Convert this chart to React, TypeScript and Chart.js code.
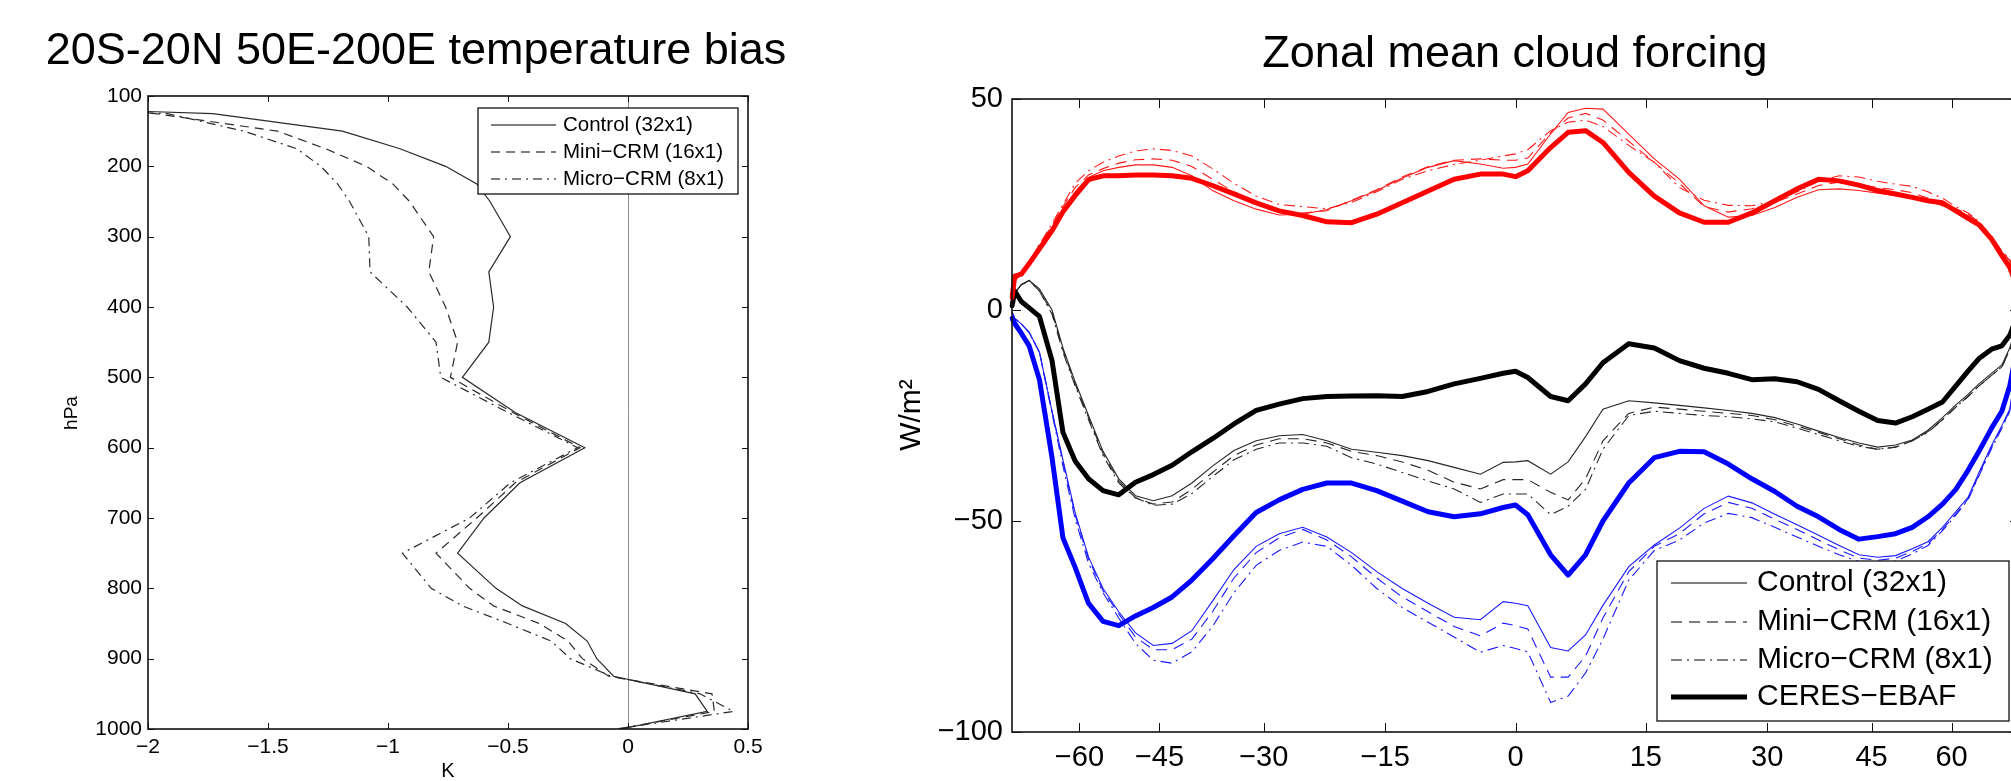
import React, { useEffect, useRef } from 'react';
import { Chart, registerables, LinearScale } from 'chart.js';

Chart.register(...registerables);

const DEG = Math.PI / 180;
const FONT = '"Liberation Sans", Arial, Helvetica, sans-serif';

// ---------------- Left panel data ----------------
const PRESSURE_LEVELS = [100, 125, 150, 175, 200, 225, 250, 300, 350, 400, 450, 500, 550, 600, 650, 700, 750, 800, 825, 850, 875, 900, 925, 950, 975, 1000];
const CONTROL_BIAS = [-4.0, -1.73, -1.19, -0.95, -0.76, -0.63, -0.575, -0.49, -0.58, -0.56, -0.58, -0.69, -0.47, -0.18, -0.45, -0.6, -0.71, -0.55, -0.44, -0.26, -0.17, -0.13, -0.06, 0.28, 0.33, -0.03];
const MINI_BIAS = [-4.3, -1.97, -1.46, -1.26, -1.09, -0.98, -0.91, -0.81, -0.83, -0.76, -0.71, -0.74, -0.48, -0.2, -0.47, -0.63, -0.8, -0.66, -0.56, -0.37, -0.25, -0.19, -0.08, 0.35, 0.36, -0.04];
const MICRO_BIAS = [-4.2, -1.92, -1.6, -1.38, -1.28, -1.21, -1.16, -1.08, -1.075, -0.92, -0.8, -0.78, -0.5, -0.21, -0.49, -0.66, -0.94, -0.82, -0.69, -0.5, -0.32, -0.24, -0.07, 0.3, 0.44, -0.05];
const BIAS_TICKS = [-2, -1.5, -1, -0.5, 0, 0.5];
const PRESSURE_TICKS = [100, 200, 300, 400, 500, 600, 700, 800, 900, 1000];
const BIAS_LABELS = ['Control (32x1)', 'Mini\u2212CRM (16x1)', 'Micro\u2212CRM (8x1)'];

// ---------------- Right panel data ----------------
const LATITUDES = [-89, -84, -79, -75, -71, -67, -64, -61, -58, -55,
  -52, -49, -46, -43, -40, -37, -34, -31, -28, -25,
  -22, -19, -16, -13, -10, -7, -4, -1.4, 0, 1.4,
  4, 6, 8, 10, 13, 16, 19, 22, 25, 28,
  31, 34, 37, 40, 43, 46, 49, 52, 55, 58,
  61, 64, 67, 71, 75, 79, 84, 89];
const LAT_TICKS = [-60, -45, -30, -15, 0, 15, 30, 45, 60];
const CF_TICKS = [-100, -50, 0, 50];

const CERES_LW = [3, 8, 8.5, 11, 14.5, 18.8, 23.3, 27.1, 30.9, 31.8,
  31.8, 32.0, 32.0, 31.8, 31.2, 29.5, 27.5, 25.4, 23.5, 22.4,
  20.9, 20.7, 22.7, 25.4, 28.2, 31.0, 32.2, 32.2, 31.6, 33.0,
  38.5, 42.1, 42.5, 39.7, 32.6, 27.0, 23.0, 20.8, 20.8, 23.0,
  25.9, 28.7, 31.0, 30.6, 29.6, 28.3, 27.5, 26.7, 25.9, 25.4,
  23.5, 21.7, 20.2, 16.8, 12.9, 10.1, 6, 3];
const CONTROL_LW = [2, 7, 8.5, 11.5, 15, 19.5, 24, 28, 31.4, 33.0,
  33.8, 34.4, 34.4, 33.8, 31.8, 28.3, 25.9, 23.9, 22.5, 22.7,
  23.8, 25.9, 28.3, 31.3, 33.8, 35.4, 34.6, 33.6, 33.8, 34.6,
  41.7, 46.8, 47.8, 47.6, 41.7, 35.8, 31.0, 24.7, 22.0, 22.4,
  24.3, 26.7, 28.5, 28.7, 28.3, 27.7, 27.1, 26.7, 25.9, 24.7,
  23.5, 22.4, 20.4, 16.8, 13.7, 11.7, 7, 3];
const MINI_LW = [2, 7, 8.5, 11.5, 15.5, 20, 24.5, 29, 32, 33.5,
  34.8, 35.6, 35.8, 35.5, 34, 31, 28, 25.5, 23.5, 23,
  23.5, 26, 28.5, 31.5, 34, 35.5, 35.8, 35.5, 35.5, 36,
  42, 45.5, 46.6, 45, 40, 35, 30, 24.5, 23.2, 24,
  25.5, 27.5, 29.5, 30.3, 29.8, 29, 28.5, 27.8, 26.5, 25.2,
  24, 22.8, 20.8, 17, 13.8, 11.7, 7, 3];
const MICRO_LW = [2, 7, 8.5, 11.5, 15.5, 20.5, 25, 30, 33, 35,
  36.5, 37.7, 38.2, 37.8, 36.5, 33.5, 30, 27, 25, 24.5,
  24, 25.5, 28, 31, 33, 34.5, 35.5, 36.5, 37, 38,
  42.5, 44.5, 45, 43.5, 39, 35, 29, 26, 24.8, 24.7,
  25.8, 28, 30.5, 31.8, 31.5, 30.5, 29.8, 29.3, 28, 26.5,
  24.5, 23, 21, 17.5, 14, 12, 7, 3];

const CERES_NET = [1, 4.5, 2, 0.5, -1.5, -12, -29, -35.8, -40, -42.8,
  -43.8, -40.8, -39, -36.8, -33.6, -30.5, -27, -23.8, -22.3, -21,
  -20.5, -20.4, -20.3, -20.5, -19.3, -17.5, -16.2, -15, -14.5, -16,
  -20.5, -21.5, -17.5, -12.5, -8, -9, -12, -13.8, -15, -16.5,
  -16.3, -17, -18.8, -21.5, -24, -26.2, -26.8, -25.3, -23.5, -21.8,
  -18, -14.5, -11.5, -9.3, -8.5, -6, -2, 0];
const CONTROL_NET = [1, 4, 6, 7, 5, 0, -9, -17, -25, -33.5,
  -40, -44, -45.2, -44, -41, -37, -33.3, -31, -29.8, -29.5,
  -31, -33, -33.7, -34.5, -35.7, -37.3, -38.9, -36.1, -36, -35.7,
  -38.9, -36, -30, -23.5, -21.5, -22, -22.6, -23.2, -23.8, -24.5,
  -25.5, -27, -28.7, -30.2, -31.5, -32.5, -32, -30.8, -28.5, -25.5,
  -22.5, -20, -17.5, -15, -13, -9, -4, 0];
const MINI_NET = [1, 4, 6, 7, 4.5, -0.5, -9.5, -17.5, -25.5, -34,
  -40.5, -44.5, -46, -45.5, -42.5, -38.5, -34.5, -32, -30.5, -30.5,
  -31.5, -33.5, -34.5, -36, -38, -40.8, -42.4, -40.2, -40.2, -40.2,
  -43.2, -45, -40, -31, -24.5, -23, -23.5, -24, -24.5, -25,
  -26, -27.5, -29, -30.5, -32, -33, -32.5, -31, -28.8, -26,
  -23, -20.5, -18, -15.5, -13.5, -9.5, -4.5, -0.5];
const MICRO_NET = [1, 4, 6, 7, 4.5, -1, -10, -18, -26, -34.5,
  -41, -44.5, -46.3, -46, -43.5, -39.5, -35.5, -33, -31.5, -31.5,
  -32.3, -35, -36.5, -38.5, -40.5, -42.4, -45.6, -43.6, -43.6, -43.6,
  -48.5, -46.5, -42.5, -33, -25, -24, -24.5, -25, -25.3, -25.8,
  -26.5, -28, -29.5, -31, -32.3, -33, -32.5, -31, -29, -26,
  -23, -20.5, -18, -15.5, -13.5, -9.5, -4.5, -0.5];

const CERES_SW = [-2, -3.2, -5.5, -8.5, -16.5, -35, -54, -61, -69.5, -73.8,
  -74.8, -72.5, -70.5, -68, -64, -59, -53.5, -48, -45, -42.5,
  -41, -41, -42.8, -45.3, -47.8, -49, -48.3, -46.8, -46.2, -48.5,
  -58, -62.8, -58, -50, -41, -35, -33.5, -33.6, -36.5, -40,
  -43, -46.5, -49, -52, -54.3, -53.7, -53, -51.5, -49, -46,
  -42.5, -38, -33.5, -28, -24, -18, -10, -5];
const CONTROL_SW = [-0.5, -2, -3.3, -5.3, -10, -24, -35.5, -48, -58.5, -66,
  -71.5, -76.5, -79.5, -79, -76, -69, -61.5, -56, -53, -51.5,
  -53.8, -57.5, -62, -66, -69.5, -72.8, -73.4, -69.1, -69.5, -70.1,
  -80, -80.8, -77, -70, -60.8, -55.7, -51.7, -47, -44.1, -45.7,
  -48.4, -50.9, -53.4, -55.8, -58, -58.6, -58.2, -56.6, -54.9, -51.5,
  -47.8, -44.4, -38.5, -32.1, -27.4, -23.5, -14, -6];
const MINI_SW = [-0.5, -2, -3.3, -5.3, -10, -24, -36, -48.5, -59, -66.5,
  -72, -77.5, -80.5, -80.5, -78, -71.5, -63.5, -57.5, -54, -52,
  -54.5, -58.5, -63.5, -68, -71.5, -75, -77.2, -74.2, -74.8, -75.6,
  -87, -87, -82, -73, -62, -56, -53, -48.3, -45.6, -47,
  -49.6, -52, -54.5, -56.8, -58.8, -59.3, -58.8, -57.2, -55.4, -52,
  -48.3, -44.8, -39, -32.5, -27.8, -23.8, -14.5, -6.5];
const MICRO_SW = [-0.5, -2, -3.3, -5.3, -10, -24.5, -37, -49.5, -60, -67,
  -73, -79, -83, -83.7, -81, -75, -67, -60.5, -57, -55,
  -56, -60.5, -66, -70.5, -74, -77.5, -81.1, -79.5, -80.2, -81,
  -93, -91.5, -86, -78, -64, -57, -54.5, -50.5, -48.2, -49.2,
  -51.5, -53.8, -56, -58, -59.6, -60, -59.5, -57.8, -55.8, -52.3,
  -48.6, -45, -39.3, -32.8, -28, -24, -15, -7];

const CF_LABELS = ['Control (32x1)', 'Mini\u2212CRM (16x1)', 'Micro\u2212CRM (8x1)', 'CERES\u2212EBAF'];

// ---------------- styles ----------------
const DASH_SOLID: number[] = [];
const DASH_DASHED = [11, 7];
const DASH_DOTDASH = [11, 5, 2, 5];
const LEFT_DASHES = [DASH_SOLID, [9, 6], [9, 5, 2, 5]];

const fmt = (v: number) => {
  const r = Math.round(v * 1000) / 1000;
  return (r < 0 ? '\u2212' : '') + String(Math.abs(r));
};

// Sine-of-latitude axis (area-weighted latitude)
class SineLatitudeScale extends LinearScale {
  static id = 'sineLatitude';
  determineDataLimits() {
    this.min = -90;
    this.max = 90;
  }
  buildTicks() {
    return LAT_TICKS.map((value) => ({ value }));
  }
  getPixelForValue(value: number) {
    return this.getPixelForDecimal((Math.sin(value * DEG) + 1) / 2);
  }
  getValueForPixel(pixel: number) {
    return Math.asin(this.getDecimalForPixel(pixel) * 2 - 1) / DEG;
  }
}
Chart.register(SineLatitudeScale as any);

function drawFrame(chart: any, tickLen: number, frameWidth: number) {
  const { ctx, chartArea: a, scales } = chart;
  ctx.save();
  ctx.strokeStyle = '#111';
  ctx.lineWidth = frameWidth;
  ctx.strokeRect(a.left, a.top, a.right - a.left, a.bottom - a.top);
  ctx.lineWidth = 1;
  ctx.beginPath();
  for (const t of scales.x.ticks) {
    const px = Math.round(scales.x.getPixelForValue(t.value)) + 0.5;
    ctx.moveTo(px, a.bottom);
    ctx.lineTo(px, a.bottom - tickLen);
    ctx.moveTo(px, a.top);
    ctx.lineTo(px, a.top + tickLen);
  }
  for (const t of scales.y.ticks) {
    const py = Math.round(scales.y.getPixelForValue(t.value)) + 0.5;
    ctx.moveTo(a.left, py);
    ctx.lineTo(a.left + tickLen, py);
    ctx.moveTo(a.right, py);
    ctx.lineTo(a.right - tickLen, py);
  }
  ctx.stroke();
  ctx.restore();
}

function drawText(ctx: any, text: string, x: number, y: number, size: number, rotate = false, align = 'center') {
  ctx.save();
  ctx.fillStyle = '#000';
  ctx.font = `${size}px ${FONT}`;
  ctx.textAlign = align;
  ctx.textBaseline = 'middle';
  ctx.translate(x, y);
  if (rotate) ctx.rotate(-Math.PI / 2);
  ctx.fillText(text, 0, 0);
  ctx.restore();
}

type LegendItem = { label: string; dash: number[]; width: number };
function drawLegend(ctx: any, box: { x: number; y: number; w: number; h: number }, rows: number[], x0: number, x1: number, tx: number, size: number, items: LegendItem[]) {
  ctx.save();
  ctx.fillStyle = '#fff';
  ctx.fillRect(box.x, box.y, box.w, box.h);
  ctx.strokeStyle = '#111';
  ctx.lineWidth = 1.3;
  ctx.strokeRect(box.x, box.y, box.w, box.h);
  items.forEach((it, i) => {
    ctx.beginPath();
    ctx.setLineDash(it.dash);
    ctx.lineWidth = it.width;
    ctx.strokeStyle = '#000';
    ctx.moveTo(x0, rows[i]);
    ctx.lineTo(x1, rows[i]);
    ctx.stroke();
    ctx.setLineDash([]);
    ctx.fillStyle = '#000';
    ctx.font = `${size}px ${FONT}`;
    ctx.textAlign = 'left';
    ctx.textBaseline = 'middle';
    ctx.fillText(it.label, tx, rows[i]);
  });
  ctx.restore();
}

function BiasChart() {
  const ref = useRef<HTMLCanvasElement>(null);
  useEffect(() => {
    const series = [CONTROL_BIAS, MINI_BIAS, MICRO_BIAS];
    const datasets = series.map((vals, i) => ({
      label: BIAS_LABELS[i],
      data: PRESSURE_LEVELS.map((p, j) => ({ x: vals[j], y: p })),
      showLine: true,
      borderColor: '#2a2a2a',
      borderWidth: 1.2,
      borderDash: LEFT_DASHES[i],
      pointRadius: 0,
      fill: false,
      tension: 0,
    }));
    const plugin = {
      id: 'biasDecor',
      beforeDatasetsDraw(chart: any) {
        const { ctx, chartArea: a, scales } = chart;
        const x0 = scales.x.getPixelForValue(0);
        ctx.save();
        ctx.strokeStyle = '#8c8c8c';
        ctx.lineWidth = 1;
        ctx.beginPath();
        ctx.moveTo(Math.round(x0) + 0.5, a.top);
        ctx.lineTo(Math.round(x0) + 0.5, a.bottom);
        ctx.stroke();
        ctx.restore();
      },
      afterDraw(chart: any) {
        const { ctx } = chart;
        drawFrame(chart, 6, 1.6);
        drawText(ctx, '20S-20N 50E-200E temperature bias', 416, 52, 45);
        drawText(ctx, 'hPa', 72, 413, 19, true);
        drawText(ctx, 'K', 448, 771, 20);
        drawLegend(ctx, { x: 478, y: 108, w: 260, h: 86 }, [125, 152, 179], 491, 556, 563, 20.5,
          BIAS_LABELS.map((label, i) => ({ label, dash: LEFT_DASHES[i], width: 1.1 })));
      },
    };
    const chart = new Chart(ref.current as HTMLCanvasElement, {
      type: 'scatter',
      data: { datasets },
      options: {
        animation: false,
        responsive: false,
        events: [],
        layout: { padding: { left: 88, right: 132, top: 96, bottom: 12 } },
        plugins: { legend: { display: false }, tooltip: { enabled: false }, title: { display: false } },
        scales: {
          x: {
            type: 'linear',
            min: -2,
            max: 0.5,
            afterBuildTicks: (s: any) => { s.ticks = BIAS_TICKS.map((value) => ({ value })); },
            grid: { display: false, drawTicks: false },
            border: { display: false },
            ticks: { color: '#000', font: { family: FONT, size: 21 }, padding: 6, autoSkip: false, maxRotation: 0, callback: (v: any) => fmt(Number(v)) },
            afterFit: (s: any) => { s.height = 40; },
          },
          y: {
            type: 'linear',
            reverse: true,
            min: 100,
            max: 1000,
            afterBuildTicks: (s: any) => { s.ticks = PRESSURE_TICKS.map((value) => ({ value })); },
            grid: { display: false, drawTicks: false },
            border: { display: false },
            ticks: { color: '#000', font: { family: FONT, size: 21 }, padding: 6, autoSkip: false, callback: (v: any) => fmt(Number(v)) },
            afterFit: (s: any) => { s.width = 60; },
          },
        },
      } as any,
      plugins: [plugin],
    });
    return () => chart.destroy();
  }, []);
  return <canvas ref={ref} width={880} height={781} style={{ position: 'absolute', left: 0, top: 0, width: 880, height: 781 }} />;
}

function CloudForcingChart() {
  const ref = useRef<HTMLCanvasElement>(null);
  useEffect(() => {
    const groups = [
      { color: '#ff0000', thin: '#ff1a1a', series: [CERES_LW, CONTROL_LW, MINI_LW, MICRO_LW] },
      { color: '#000000', thin: '#262626', series: [CERES_NET, CONTROL_NET, MINI_NET, MICRO_NET] },
      { color: '#0000ff', thin: '#1a1aff', series: [CERES_SW, CONTROL_SW, MINI_SW, MICRO_SW] },
    ];
    const dashes = [DASH_SOLID, DASH_SOLID, DASH_DASHED, DASH_DOTDASH];
    const datasets: any[] = [];
    // observations first (drawn on top), then model runs
    groups.forEach((g) => {
      datasets.push({
        label: CF_LABELS[3],
        data: LATITUDES.map((lat, j) => ({ x: lat, y: g.series[0][j] })),
        showLine: true,
        borderColor: g.color,
        borderWidth: 5,
        borderDash: DASH_SOLID,
        borderJoinStyle: 'round',
        borderCapStyle: 'round',
        pointRadius: 0,
        fill: false,
      });
    });
    groups.forEach((g) => {
      for (let k = 1; k < 4; k++) {
        datasets.push({
          label: CF_LABELS[k - 1],
          data: LATITUDES.map((lat, j) => ({ x: lat, y: g.series[k][j] })),
          showLine: true,
          borderColor: g.thin,
          borderWidth: 1.1,
          borderDash: dashes[k],
          pointRadius: 0,
          fill: false,
        });
      }
    });
    const plugin = {
      id: 'cfDecor',
      afterDraw(chart: any) {
        const { ctx } = chart;
        drawFrame(chart, 9, 1.6);
        drawText(ctx, 'Zonal mean cloud forcing', 635, 55, 45);
        drawText(ctx, 'W/m\u00b2', 32, 415, 30, true);
        drawLegend(ctx, { x: 777, y: 561, w: 352, h: 160 }, [583, 622, 660, 697], 791, 867, 877, 30,
          CF_LABELS.map((label, i) => ({ label, dash: [DASH_SOLID, DASH_DASHED, DASH_DOTDASH, DASH_SOLID][i], width: i === 3 ? 5 : 1.1 })));
      },
    };
    const chart = new Chart(ref.current as HTMLCanvasElement, {
      type: 'scatter',
      data: { datasets },
      options: {
        animation: false,
        responsive: false,
        events: [],
        layout: { padding: { left: 52, right: 21, top: 99, bottom: 9 } },
        plugins: { legend: { display: false }, tooltip: { enabled: false }, title: { display: false } },
        scales: {
          x: {
            type: 'sineLatitude',
            grid: { display: false, drawTicks: false },
            border: { display: false },
            ticks: { color: '#000', font: { family: FONT, size: 29 }, padding: 9, autoSkip: false, maxRotation: 0, callback: (v: any) => fmt(Number(v)) },
            afterFit: (s: any) => { s.height = 40; },
          },
          y: {
            type: 'linear',
            min: -100,
            max: 50,
            afterBuildTicks: (s: any) => { s.ticks = CF_TICKS.map((value) => ({ value })); },
            grid: { display: false, drawTicks: false },
            border: { display: false },
            ticks: { color: '#000', font: { family: FONT, size: 29 }, padding: 9, autoSkip: false, callback: (v: any) => fmt(Number(v)) },
            afterFit: (s: any) => { s.width = 80; },
          },
        },
      } as any,
      plugins: [plugin],
    });
    return () => chart.destroy();
  }, []);
  return <canvas ref={ref} width={1160} height={781} style={{ position: 'absolute', left: 880, top: 0, width: 1160, height: 781 }} />;
}

export default function App() {
  return (
    <div style={{ position: 'absolute', left: 0, top: 0, width: 2011, height: 781, overflow: 'hidden', background: '#fff' }}>
      <BiasChart />
      <CloudForcingChart />
    </div>
  );
}
